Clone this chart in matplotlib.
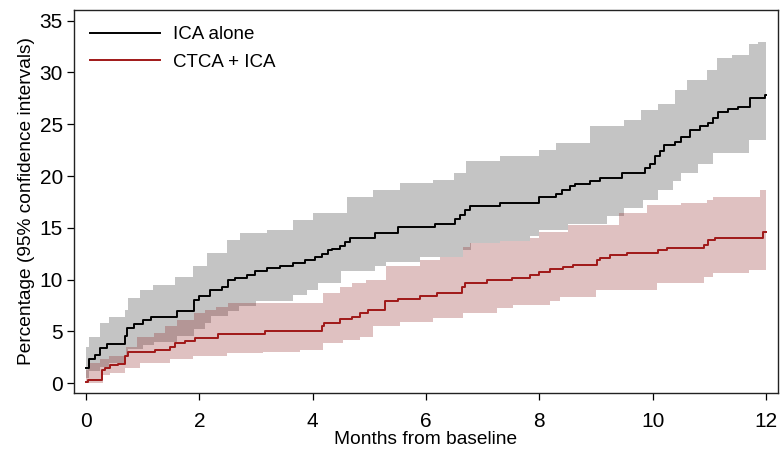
import numpy as np
import matplotlib
matplotlib.use("Agg")
import matplotlib.pyplot as plt

plt.rcParams['font.family'] = ['Liberation Sans', 'DejaVu Sans']

# ---- data (months, percentage) ----
ica_t = [0, 0.05, 0.16, 0.25, 0.37, 0.69, 0.72, 0.85, 1.0, 1.15, 1.6, 1.9, 2.0, 2.19, 2.4, 2.5,
         2.63, 2.84, 2.98, 3.19, 3.42, 3.65, 3.86, 4.04, 4.16, 4.27, 4.34, 4.48, 4.57, 4.66, 5.1,
         5.5, 6.16, 6.51, 6.6, 6.69, 6.78, 7.3, 8.0, 8.3, 8.4, 8.54, 8.63, 8.9, 9.07, 9.46, 9.86,
         9.95, 10.04, 10.13, 10.2, 10.4, 10.5, 10.66, 10.83, 10.98, 11.06, 11.15, 11.33, 11.5,
         11.72, 11.98]
ica_v = [1.5, 2.3, 2.7, 3.4, 3.8, 4.6, 5.3, 5.7, 6.1, 6.4, 7.0, 8.0, 8.4, 9.0, 9.3, 10.0,
         10.2, 10.45, 10.8, 11.1, 11.35, 11.6, 11.9, 12.2, 12.5, 12.9, 13.0, 13.25, 13.6, 14.0, 14.5,
         15.1, 15.4, 15.9, 16.2, 16.7, 17.1, 17.4, 18.0, 18.3, 18.7, 19.0, 19.2, 19.5, 19.8, 20.3, 20.75,
         21.2, 21.9, 22.4, 23.0, 23.3, 23.8, 24.45, 24.8, 25.1, 25.6, 26.2, 26.45, 26.7,
         27.5, 27.8]

ica_hi_t = [0, 0.05, 0.25, 0.4, 0.69, 0.74, 0.95, 1.19, 1.57, 1.89, 2.13, 2.49, 2.72, 3.19, 3.66,
            4.0, 4.6, 5.07, 5.54, 6.12, 6.5, 6.7, 7.3, 8.0, 8.3, 8.9, 9.5, 9.8, 10.1, 10.4, 10.6,
            10.96, 11.13, 11.4, 11.7, 11.85]
ica_hi_v = [3.5, 4.5, 5.8, 6.4, 7.1, 8.2, 9.0, 9.5, 10.3, 11.3, 12.6, 13.8, 14.5, 14.8, 15.8,
            16.4, 18.0, 18.7, 19.3, 19.6, 20.3, 21.5, 21.9, 22.5, 23.2, 24.8, 25.4, 26.4, 27.0, 28.3, 29.3,
            30.2, 31.4, 31.7, 32.7, 32.9]

ica_lo_t = [0, 0.05, 0.25, 0.4, 0.7, 0.75, 1.0, 1.2, 1.6, 1.9, 2.1, 2.2, 2.5, 2.7, 3.0, 3.65,
            3.9, 4.1, 4.5, 5.1, 5.3, 5.9, 6.65, 6.8, 7.3, 7.83, 8.0, 8.5, 9.2, 9.5, 9.83, 10.1,
            10.35, 10.5, 10.8, 11.07, 11.7]
ica_lo_v = [0.5, 1.2, 1.6, 2.0, 2.6, 3.3, 3.7, 4.0, 4.6, 5.2, 5.8, 6.5, 7.0, 7.5, 7.9, 8.5,
            9.0, 9.7, 10.8, 11.3, 11.7, 12.2, 12.9, 13.5, 13.7, 14.2, 14.8, 15.4, 16.1, 16.9, 17.7, 18.7,
            19.5, 20.3, 21.2, 22.2, 23.5]

ctca_t = [0, 0.03, 0.28, 0.33, 0.42, 0.57, 0.69, 0.74, 1.22, 1.48, 1.57, 1.75, 1.92, 2.33, 3.16,
          4.16, 4.2, 4.48, 4.69, 4.84, 4.98, 5.28, 5.5, 5.9, 6.2, 6.63, 6.69, 7.07, 7.51, 7.83,
          8.0, 8.19, 8.42, 8.6, 9.01, 9.07, 9.25, 9.54, 10.1, 10.25, 10.9, 10.98, 11.1, 11.95]
ctca_v = [0.1, 0.3, 1.3, 1.5, 1.8, 1.9, 2.6, 3.0, 3.2, 3.5, 3.9, 4.1, 4.35, 4.8, 5.0,
          5.5, 5.85, 6.2, 6.4, 6.75, 7.1, 7.9, 8.1, 8.4, 8.7, 9.3, 9.7, 10.0, 10.2, 10.45,
          10.7, 11.0, 11.25, 11.4, 11.9, 12.1, 12.4, 12.6, 12.9, 13.1, 13.35, 13.8, 14.0, 14.6]

ctca_hi_t = [0, 0.03, 0.25, 0.4, 0.7, 0.9, 1.2, 1.4, 1.6, 1.9, 2.1, 2.3, 2.5, 4.18, 4.48, 4.7,
             4.95, 5.3, 5.9, 6.25, 6.65, 6.78, 7.3, 7.83, 8.0, 8.5, 9.4, 9.9, 10.5, 10.96, 11.07, 11.9]
ctca_hi_v = [1.3, 2.0, 2.3, 2.6, 3.5, 4.5, 4.85, 5.5, 6.1, 6.8, 7.1, 7.4, 7.7, 8.7, 9.3, 9.65,
             10.0, 11.3, 11.9, 12.2, 13.2, 13.5, 13.7, 14.0, 14.6, 15.3, 16.4, 17.2, 17.4, 17.7, 18.0, 18.7]

ctca_lo_t = [0, 0.3, 0.42, 0.69, 0.95, 1.48, 1.89, 2.49, 3.12, 3.78, 4.18, 4.53, 4.84, 5.07, 5.54,
             6.12, 6.65, 7.25, 7.53, 8.19, 8.36, 9.0, 10.07, 10.9, 11.07, 11.7]
ctca_lo_v = [0.0, 0.8, 1.0, 1.5, 1.95, 2.35, 2.6, 2.9, 3.05, 3.2, 3.85, 4.2, 4.5, 5.5, 5.95,
             6.3, 6.75, 7.25, 7.55, 7.9, 8.35, 9.0, 9.65, 10.3, 10.6, 10.9]

t_end = 12.0
labels = ['ICA alone', 'CTCA + ICA']
xticks = [0, 2, 4, 6, 8, 10, 12]
yticks = [0, 5, 10, 15, 20, 25, 30, 35]


def step_eval(t, v, grid):
    t = np.asarray(t); v = np.asarray(v)
    idx = np.searchsorted(t, grid, side='right') - 1
    return v[np.clip(idx, 0, len(v) - 1)]


def band(t_hi, v_hi, t_lo, v_lo):
    grid = np.unique(np.concatenate([t_hi, t_lo, [t_end]]))
    return grid, step_eval(t_hi, v_hi, grid), step_eval(t_lo, v_lo, grid)


def line(t, v):
    return np.append(t, t_end), np.append(v, v[-1])


fig = plt.figure(figsize=(7.8, 4.5), dpi=100)
ax = fig.add_axes([0.0949, 0.1267, 0.9025, 0.8511])

g, hi, lo = band(ica_hi_t, ica_hi_v, ica_lo_t, ica_lo_v)
ax.fill_between(g, lo, hi, step='post', color='#c4c4c4', linewidth=0)
g, hi, lo = band(ctca_hi_t, ctca_hi_v, ctca_lo_t, ctca_lo_v)
ax.fill_between(g, lo, hi, step='post', color='#8b1a1a', alpha=0.27, linewidth=0)

x, y = line(ica_t, ica_v)
ax.plot(x, y, drawstyle='steps-post', color='black', lw=1.4, label=labels[0])
x, y = line(ctca_t, ctca_v)
ax.plot(x, y, drawstyle='steps-post', color='#a01818', lw=1.4, label=labels[1])

ax.set_xlim(-0.21, 12.21)
ax.set_ylim(-0.94, 36.03)
ax.set_xticks(xticks)
ax.set_yticks(yticks)
ax.tick_params(axis='both', direction='out', length=5, width=0.9, labelsize=15, colors='black')
ax.tick_params(axis='x', pad=8.5)
ax.tick_params(axis='y', pad=3)
for s in ax.spines.values():
    s.set_linewidth(1.0)
    s.set_color('#222222')

ax.set_xlabel('Months from baseline', fontsize=13.8, labelpad=0.5)
ax.set_ylabel('Percentage (95% confidence intervals)', fontsize=13.8, labelpad=3)

leg = ax.legend(loc='upper left', frameon=False, fontsize=13.5, handlelength=3.7,
                handletextpad=0.7, labelspacing=0.54, borderaxespad=0.47,
                borderpad=0.4)

fig.savefig('out.png', dpi=100)
